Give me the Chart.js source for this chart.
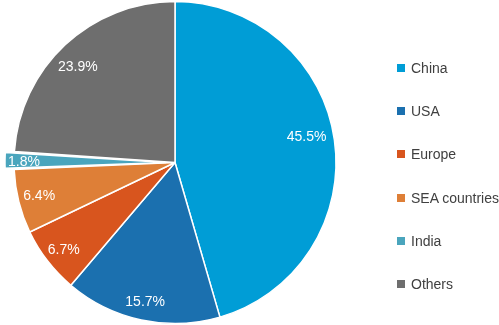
<!DOCTYPE html>
<html>
<head>
<meta charset="utf-8">
<script src="https://cdn.jsdelivr.net/npm/chart.js@4.4.1/dist/chart.umd.min.js"></script>
<style>
  html, body { margin: 0; padding: 0; background: #fff; }
  #wrap { position: relative; width: 499px; height: 325px; }
  #c { position: absolute; left: 0; top: 0; }
  #legend { position: absolute; left: 397px; top: 0; font-family: "Liberation Sans", Arial, sans-serif; font-size: 14px; color: #404040; }
  .item { position: absolute; left: 0; white-space: nowrap; height: 16px; line-height: 16px; }
  .sw { position: absolute; left: 0; top: 4px; width: 8px; height: 8px; }
  .tx { position: absolute; left: 14px; top: 0; }
</style>
</head>
<body>
<div id="wrap">
  <canvas id="c" width="499" height="325"></canvas>
  <div id="legend"></div>
</div>
<script>
const categories = ["China", "USA", "Europe", "SEA countries", "India", "Others"];
const shares = [45.5, 15.7, 6.7, 6.4, 1.8, 23.9];
const valueLabels = ["45.5%", "15.7%", "6.7%", "6.4%", "1.8%", "23.9%"];
const colors = ["#009DD6", "#1B70AF", "#D8551E", "#DE7F37", "#4AA5BD", "#6E6E6E"];
const exploded = [0, 0, 0, 0, 36, 0];
// small per-label placement tweaks (style only)
const labelNudge = [[-5, -6], [-1, 5], [-2, 3], [-2, 0], [-4, 1], [-3, 6]];

// legend (HTML)
const legendEl = document.getElementById('legend');
categories.forEach((name, i) => {
  const it = document.createElement('div');
  it.className = 'item';
  it.style.top = (60 + i * 43.2) + 'px';
  it.innerHTML = '<span class="sw" style="background:' + colors[i] + '"></span><span class="tx">' + name + '</span>';
  legendEl.appendChild(it);
});

const fixOffset = {
  id: 'fixOffset',
  afterDatasetUpdate(chart, args) {
    const meta = args.meta;
    meta.data.forEach(el => {
      const off = (el.options && el.options.offset) || 0;
      if (off) {
        const circ = el.endAngle - el.startAngle;
        const fix = 1 - Math.sin(Math.min(Math.PI, circ));
        el.outerRadius = el.outerRadius - (off / 4) * fix;
      }
    });
  }
};

const pctLabels = {
  id: 'pctLabels',
  afterDatasetsDraw(chart) {
    const ctx = chart.ctx;
    const meta = chart.getDatasetMeta(0);
    ctx.save();
    ctx.font = '14px "Liberation Sans", Arial, sans-serif';
    ctx.fillStyle = '#ffffff';
    ctx.textAlign = 'center';
    ctx.textBaseline = 'middle';
    meta.data.forEach((el, i) => {
      const p = el.getProps(['x', 'y', 'startAngle', 'endAngle', 'outerRadius']);
      const mid = (p.startAngle + p.endAngle) / 2;
      const off = (el.options.offset || 0) / 4;
      const r = 138 + off;
      ctx.fillText(valueLabels[i], p.x + Math.cos(mid) * r + labelNudge[i][0], p.y + Math.sin(mid) * r + labelNudge[i][1]);
    });
    ctx.restore();
  }
};

new Chart(document.getElementById('c'), {
  type: 'pie',
  data: {
    labels: categories,
    datasets: [{
      data: shares,
      backgroundColor: colors,
      borderColor: '#ffffff',
      borderWidth: 1.5,
      offset: exploded,
      radius: 161
    }]
  },
  options: {
    responsive: false,
    animation: false,
    layout: { padding: { left: 0, right: 149, top: 0, bottom: 0 } },
    plugins: {
      legend: { display: false },
      tooltip: { enabled: false }
    }
  },
  plugins: [fixOffset, pctLabels]
});
</script>
</body>
</html>
